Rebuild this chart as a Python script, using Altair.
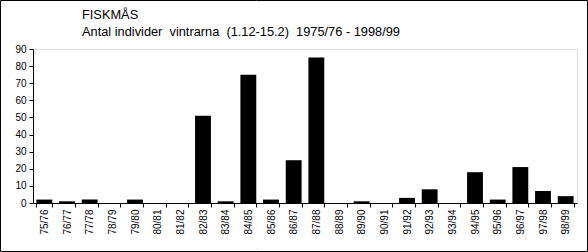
import altair as alt
import pandas as pd

seasons = ["75/76", "76/77", "77/78", "78/79", "79/80", "80/81", "81/82", "82/83",
           "83/84", "84/85", "85/86", "86/87", "87/88", "88/89", "89/90", "90/91",
           "91/92", "92/93", "93/94", "94/95", "95/96", "96/97", "97/98", "98/99"]
counts = [2, 1, 2, 0, 2, 0, 0, 51, 1, 75, 2, 25, 85, 0, 1, 0, 3, 8, 0, 18, 2, 21, 7, 4]
y_ticks = [0, 10, 20, 30, 40, 50, 60, 70, 80, 90]
title_line1 = "FISKMÅS"
title_line2 = "Antal individer\u00a0 vintrarna\u00a0 (1.12-15.2)\u00a0 1975/76 - 1998/99"

df = pd.DataFrame({"season": seasons, "count": counts})
FONT = "Liberation Sans"

bars = alt.Chart(df).mark_bar(color="black").encode(
    x=alt.X("season:N", sort=seasons, title=None,
            scale=alt.Scale(paddingInner=0.3, paddingOuter=0.15),
            axis=alt.Axis(labelAngle=270, labelAlign="right", labelBaseline="middle",
                          tickBand="extent", tickSize=4, labelPadding=2,
                          labelFont=FONT, labelFontSize=10, labelColor="black",
                          domainColor="black", tickColor="black")),
    y=alt.Y("count:Q", title=None,
            scale=alt.Scale(domain=[0, 90], nice=False),
            axis=alt.Axis(values=y_ticks, grid=False, tickSize=4, labelPadding=3,
                          labelFont=FONT, labelFontSize=10, labelColor="black",
                          domainColor="black", tickColor="black")),
)

frame = alt.Chart(alt.Data(values=[{}])).mark_rect(
    fill=None, stroke="black", strokeWidth=1
).encode(
    x=alt.value(-32.5), x2=alt.value(554.5), y=alt.value(-48.5), y2=alt.value(202.5)
)

t1 = alt.Chart(alt.Data(values=[{}])).mark_text(
    text=title_line1, align="left", baseline="alphabetic", font=FONT, fontSize=12.8, color="black"
).encode(x=alt.value(49), y=alt.value(-29.7))

t2 = alt.Chart(alt.Data(values=[{}])).mark_text(
    text=title_line2, align="left", baseline="alphabetic", font=FONT, fontSize=12.8, color="black"
).encode(x=alt.value(49), y=alt.value(-13.3))

chart = alt.layer(bars, frame, t1, t2).properties(
    width=544, height=154,
    autosize=alt.AutoSizeParams(type="none"),
    padding={"left": 33, "top": 49, "right": 11, "bottom": 49},
).configure_view(stroke=None).configure(background="white")

chart.save("out.html", embed_options={"renderer": "svg", "actions": False})
